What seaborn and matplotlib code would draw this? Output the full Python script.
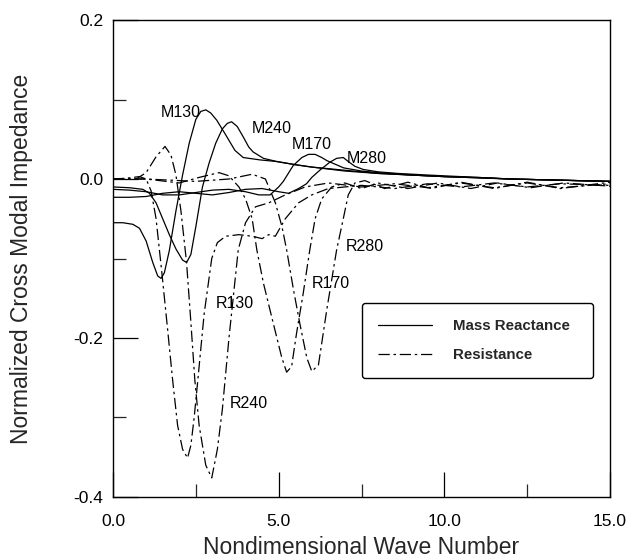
import matplotlib
matplotlib.use("Agg")
import matplotlib.pyplot as plt
import seaborn as sns
import pandas as pd
from matplotlib.lines import Line2D

# ---- data ----
m130_x = [0.0, 0.3, 0.6, 0.8, 1.0, 1.2, 1.35, 1.45, 1.55, 1.7, 1.9, 2.1, 2.3, 2.5, 2.65, 2.8, 2.95, 3.13, 3.38, 3.68, 3.93, 4.44, 4.94, 5.5, 6.0, 7.0, 8.0, 9.0, 10.0, 11.0, 12.0, 13.0, 14.0, 15.0]
m130_y = [-0.055, -0.055, -0.057, -0.062, -0.078, -0.105, -0.122, -0.125, -0.118, -0.09, -0.04, 0.005, 0.045, 0.075, 0.085, 0.087, 0.083, 0.074, 0.057, 0.036, 0.027, 0.024, 0.022, 0.018, 0.015, 0.010, 0.007, 0.005, 0.003, 0.002, 0.000, -0.001, -0.002, -0.003]

m240_x = [0.0, 0.5, 0.9, 1.1, 1.3, 1.5, 1.7, 1.9, 2.1, 2.22, 2.35, 2.5, 2.7, 2.9, 3.1, 3.3, 3.45, 3.58, 3.75, 3.93, 4.1, 4.23, 4.54, 4.94, 5.5, 6.0, 7.0, 8.0, 9.0, 10.0, 12.0, 15.0]
m240_y = [-0.010, -0.011, -0.013, -0.018, -0.03, -0.05, -0.07, -0.088, -0.102, -0.105, -0.095, -0.06, -0.01, 0.02, 0.045, 0.063, 0.07, 0.072, 0.066, 0.053, 0.04, 0.034, 0.026, 0.022, 0.018, 0.015, 0.011, 0.007, 0.005, 0.003, 0.000, -0.003]

m170_x = [0.0, 0.5, 1.0, 1.5, 2.0, 2.5, 3.0, 3.5, 4.0, 4.4, 4.74, 5.0, 5.14, 5.44, 5.7, 5.9, 6.1, 6.3, 6.46, 6.96, 7.5, 8.0, 9.0, 10.0, 12.0, 15.0]
m170_y = [-0.013, -0.014, -0.016, -0.02, -0.02, -0.017, -0.014, -0.013, -0.016, -0.02, -0.020, -0.01, -0.003, 0.017, 0.027, 0.031, 0.031, 0.027, 0.023, 0.014, 0.010, 0.008, 0.005, 0.003, 0.000, -0.003]

m280_x = [0.0, 0.5, 1.0, 1.5, 2.0, 2.5, 3.0, 3.5, 4.0, 4.5, 5.0, 5.3, 5.6, 5.84, 6.0, 6.24, 6.54, 6.75, 6.95, 7.1, 7.3, 7.55, 8.0, 8.6, 9.5, 10.5, 12.0, 15.0]
m280_y = [-0.023, -0.023, -0.022, -0.018, -0.016, -0.018, -0.02, -0.017, -0.013, -0.012, -0.016, -0.018, -0.012, -0.006, 0.002, 0.011, 0.021, 0.026, 0.027, 0.022, 0.016, 0.012, 0.009, 0.007, 0.005, 0.003, 0.000, -0.003]

r130_x = [0.0, 0.4, 0.8, 1.0, 1.15, 1.3, 1.48, 1.65, 1.8, 1.95, 2.1, 2.25, 2.35, 2.45, 2.56, 2.75, 2.98, 3.15, 3.4, 3.8, 4.2, 4.5, 4.7, 4.9, 5.2, 5.6, 6.0, 6.5, 7.5, 8.5, 9.5, 10.5, 11.5, 12.5, 13.5, 15.0]
r130_y = [0.0, 0.001, 0.003, 0.0, -0.015, -0.05, -0.12, -0.19, -0.253, -0.31, -0.34, -0.351, -0.335, -0.30, -0.253, -0.17, -0.10, -0.08, -0.072, -0.07, -0.072, -0.075, -0.070, -0.072, -0.05, -0.03, -0.02, -0.012, -0.008, -0.012, -0.006, -0.010, -0.005, -0.010, -0.006, -0.008]

r240_x = [0.0, 0.7, 1.0, 1.3, 1.57, 1.75, 1.9, 2.05, 2.22, 2.35, 2.47, 2.6, 2.8, 2.98, 3.15, 3.3, 3.5, 3.78, 4.0, 4.3, 4.7, 5.2, 5.8, 6.5, 7.5, 8.5, 9.5, 10.5, 11.5, 12.5, 13.5, 15.0]
r240_y = [0.0, 0.0, 0.008, 0.028, 0.041, 0.03, 0.005, -0.04, -0.105, -0.18, -0.253, -0.31, -0.36, -0.376, -0.34, -0.29, -0.20, -0.089, -0.055, -0.035, -0.03, -0.02, -0.01, -0.005, -0.01, -0.006, -0.011, -0.005, -0.011, -0.005, -0.011, -0.006]

r170_x = [0.0, 1.0, 2.0, 2.6, 3.2, 3.5, 3.8, 4.0, 4.2, 4.34, 4.54, 4.84, 5.09, 5.24, 5.39, 5.54, 5.74, 5.94, 6.1, 6.3, 6.6, 7.0, 7.5, 8.0, 8.9, 9.8, 10.8, 11.6, 12.6, 13.6, 15.0]
r170_y = [0.0, 0.0, -0.005, 0.002, 0.008, 0.004, -0.01, -0.025, -0.05, -0.089, -0.131, -0.182, -0.224, -0.243, -0.236, -0.194, -0.144, -0.089, -0.05, -0.025, -0.01, -0.005, -0.012, -0.005, -0.012, -0.005, -0.012, -0.005, -0.011, -0.005, -0.009]

r280_x = [0.0, 1.0, 2.5, 3.5, 4.2, 4.6, 4.9, 5.1, 5.24, 5.45, 5.64, 5.85, 6.0, 6.2, 6.45, 6.75, 6.95, 7.1, 7.3, 7.6, 8.2, 8.9, 9.6, 10.5, 11.5, 12.5, 13.5, 15.0]
r280_y = [0.0, 0.0, -0.003, 0.0, 0.006, 0.0, -0.03, -0.06, -0.089, -0.14, -0.182, -0.225, -0.242, -0.234, -0.165, -0.089, -0.05, -0.02, -0.005, -0.002, -0.012, -0.004, -0.012, -0.004, -0.012, -0.004, -0.012, -0.004]

label_text = ["M130", "M240", "M170", "M280", "R280", "R170", "R130", "R240"]
label_x = [1.45, 4.19, 5.39, 7.05, 7.03, 6.0, 3.11, 3.53]
label_y = [0.084, 0.064, 0.043, 0.026, -0.085, -0.131, -0.156, -0.282]

x_ticks = [0.0, 5.0, 10.0, 15.0]
x_ticklabels = ["0.0", "5.0", "10.0", "15.0"]
y_ticks = [0.2, 0.0, -0.2, -0.4]
y_ticklabels = ["0.2", "0.0", "-0.2", "-0.4"]
legend_labels = ["Mass Reactance", "Resistance"]

# ---- build table ----
curves = {
    "M130": (m130_x, m130_y, "Mass Reactance"),
    "M240": (m240_x, m240_y, "Mass Reactance"),
    "M170": (m170_x, m170_y, "Mass Reactance"),
    "M280": (m280_x, m280_y, "Mass Reactance"),
    "R130": (r130_x, r130_y, "Resistance"),
    "R240": (r240_x, r240_y, "Resistance"),
    "R170": (r170_x, r170_y, "Resistance"),
    "R280": (r280_x, r280_y, "Resistance"),
}
rows = []
for name, (xs, ys, kind) in curves.items():
    for xv, yv in zip(xs, ys):
        rows.append({"k": xv, "z": yv, "curve": name, "kind": kind})
df = pd.DataFrame(rows)

sns.set_style("ticks")
plt.rcParams["font.family"] = ["Liberation Sans", "DejaVu Sans"]

fig = plt.figure(figsize=(6.26, 5.6), dpi=100)
ax = fig.add_axes([113 / 626, 63 / 560, 497 / 626, 477 / 560])

dash_r = (0, (9, 3, 2, 3))
for name in curves:
    sub = df[df["curve"] == name]
    kind = sub["kind"].iloc[0]
    ls = "-" if kind == "Mass Reactance" else dash_r
    sns.lineplot(data=sub, x="k", y="z", ax=ax, color="black", lw=0.9,
                 linestyle=ls, sort=False, estimator=None, legend=False)

for t, xv, yv in zip(label_text, label_x, label_y):
    ax.text(xv, yv, t, fontsize=11.5, ha="left", va="center", color="black")

ax.set_xlim(0, 15)
ax.set_ylim(-0.4, 0.2)
ax.set_xticks(x_ticks)
ax.set_xticklabels(x_ticklabels)
ax.set_xticks([2.5, 7.5, 12.5], minor=True)
ax.set_yticks(y_ticks)
ax.set_yticklabels(y_ticklabels)
ax.set_yticks([0.1, -0.1, -0.3], minor=True)
ax.tick_params(axis="both", which="major", direction="in", length=18, width=0.9,
               labelsize=12.5, colors="black")
ax.tick_params(axis="both", which="minor", direction="in", length=9.5, width=0.9)
ax.tick_params(axis="x", which="major", pad=12)
ax.tick_params(axis="y", which="major", pad=7)
for sp in ax.spines.values():
    sp.set_visible(True)
    sp.set_linewidth(1.0)
    sp.set_color("black")

ax.set_xlabel("Nondimensional Wave Number", fontsize=16.5, labelpad=5)
ax.set_ylabel("Normalized Cross Modal Impedance", fontsize=16.5)
ax.yaxis.set_label_coords(-0.16, 0.5)

handles = [Line2D([0], [0], color="black", lw=0.9, linestyle="-"),
           Line2D([0], [0], color="black", lw=0.9, linestyle=dash_r)]
x0 = (362 - 113) / 497
y1 = (497 - 303) / 477
leg = ax.legend(handles, legend_labels, loc="upper left",
                bbox_to_anchor=(x0, y1 - 0.3, (593 - 362) / 497, 0.3),
                mode="expand",
                borderaxespad=0, frameon=True, fancybox=True,
                prop={"weight": "bold", "size": 10.8},
                handlelength=3.6, handletextpad=1.4, labelspacing=1.0,
                borderpad=1.05)
leg.get_frame().set_edgecolor("black")
leg.get_frame().set_linewidth(1.0)
leg.get_frame().set_alpha(1)

fig.savefig("out.png", dpi=100)
